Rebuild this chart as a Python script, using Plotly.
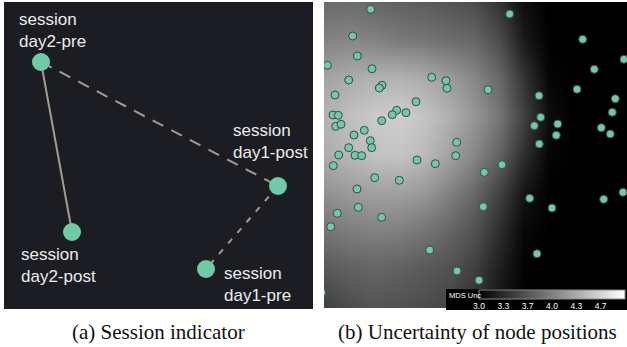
import plotly.graph_objects as go

W, H = 627, 347

# ---------------- Panel (a): session indicator ----------------
session_names = ["session<br>day2-pre", "session<br>day2-post", "session<br>day1-post", "session<br>day1-pre"]
session_x = [41, 72, 278, 206]
session_y = [62, 232, 186, 269]
# links between sessions: (from, to, style)
links = [(0, 1, "solid"), (0, 2, "12px,9px"), (2, 3, "6px,8px")]
# label offsets (left edge, vertical centre) relative to point
label_dx = [-24, -53, -47, 16]
label_dy = [-31, 33, -45, 15]

# ---------------- Panel (b): uncertainty of node positions ----------------
node_x = [370.7, 509.7, 352.7, 582.7, 357.3, 624.0, 327.3, 372.0, 594.3, 348.7,
          431.7, 446.0, 382.0, 379.3, 447.0, 488.0, 577.0, 335.0, 539.0, 615.3,
          416.0, 333.0, 338.3, 396.7, 392.3, 406.0, 612.3, 540.7, 381.7, 335.7,
          341.0, 534.3, 557.7, 601.3, 364.3, 354.0, 556.3, 610.3, 370.3, 456.7,
          539.3, 348.7, 371.7, 338.7, 355.0, 361.7, 455.7, 417.0, 435.3, 502.0,
          333.3, 484.3, 374.7, 399.3, 357.0, 623.0, 529.7, 603.7, 358.3, 483.3,
          552.0, 337.3, 381.7, 330.7, 429.7, 537.0, 457.0, 479.0, 322.0]
node_y = [9.3, 14.0, 36.0, 39.3, 56.0, 59.3, 65.3, 68.7, 69.3, 80.0,
          77.3, 80.7, 85.3, 88.0, 88.3, 89.7, 89.3, 95.0, 95.7, 98.7,
          101.7, 115.0, 115.3, 110.3, 114.7, 112.7, 112.3, 117.3, 120.7, 126.3,
          124.3, 125.7, 124.0, 127.7, 130.3, 135.0, 135.3, 134.0, 140.7, 142.3,
          144.0, 147.7, 147.7, 155.0, 155.3, 155.7, 155.7, 160.0, 163.7, 164.7,
          165.7, 172.3, 177.7, 180.3, 189.0, 192.3, 198.3, 199.3, 207.3, 206.7,
          208.0, 213.3, 217.3, 226.7, 250.0, 253.7, 271.0, 280.3, 292.7]

# MDS uncertainty field sampled on a coarse grid
grid_x = [324, 349, 374, 399, 424, 449, 474, 499, 524, 549, 574, 599, 624]
grid_y = [2, 40, 78, 116, 154, 192, 230, 268, 306]
mds_unc = [
    [3.84, 3.84, 3.80, 3.76, 3.72, 3.66, 3.60, 3.40, 3.10, 3.00, 3.00, 3.00, 3.00],
    [4.02, 4.06, 4.02, 3.96, 3.92, 3.86, 3.80, 3.60, 3.20, 3.00, 3.00, 3.00, 3.00],
    [4.28, 4.34, 4.40, 4.40, 4.34, 4.22, 4.06, 3.82, 3.40, 3.04, 3.00, 3.00, 3.00],
    [4.40, 4.50, 4.58, 4.62, 4.54, 4.38, 4.18, 3.92, 3.50, 3.10, 3.00, 3.00, 3.00],
    [4.36, 4.44, 4.52, 4.54, 4.46, 4.28, 4.06, 3.78, 3.36, 3.04, 3.00, 3.00, 3.00],
    [4.14, 4.22, 4.26, 4.26, 4.20, 4.02, 3.82, 3.52, 3.16, 3.00, 3.00, 3.00, 3.00],
    [3.92, 3.98, 4.02, 4.00, 3.92, 3.80, 3.64, 3.36, 3.06, 3.00, 3.00, 3.00, 3.00],
    [3.70, 3.76, 3.80, 3.76, 3.70, 3.64, 3.50, 3.24, 3.02, 3.00, 3.00, 3.00, 3.00],
    [3.50, 3.60, 3.66, 3.64, 3.60, 3.54, 3.40, 3.16, 3.00, 3.00, 3.00, 3.00, 3.00],
]
cbar_vals = [3.0, 3.333, 3.667, 4.0, 4.333, 4.667, 5.0]
cbar_text = ["3.0", "3.3", "3.7", "4.0", "4.3", "4.7", "5.0"]

MINT = "#6dcba8"
LINK = "#a39b8f"
DARK = "#1c1d22"

fig = go.Figure()

# links
for a, b, dash in links:
    fig.add_trace(go.Scatter(
        x=[session_x[a], session_x[b]], y=[session_y[a], session_y[b]],
        mode="lines", line=dict(color=LINK, width=2, dash=dash),
        xaxis="x", yaxis="y", hoverinfo="skip", showlegend=False))

fig.add_trace(go.Scatter(
    x=session_x, y=session_y, mode="markers",
    marker=dict(color=MINT, size=18, line=dict(width=0)),
    xaxis="x", yaxis="y", showlegend=False))

# heatmap
fig.add_trace(go.Heatmap(
    x=grid_x, y=grid_y, z=mds_unc, zmin=3.0, zmax=5.0, zsmooth="best",
    colorscale=[[0, "#000000"], [1, "#ffffff"]],
    xaxis="x2", yaxis="y2", hoverinfo="skip",
    colorbar=dict(
        orientation="h", xref="container", yref="container",
        x=479 / W, xanchor="left", y=1 - 290 / H, yanchor="top",
        len=146, lenmode="pixels", thickness=9, thicknessmode="pixels",
        xpad=0, ypad=0, outlinewidth=1, outlinecolor="#888888",
        tickvals=cbar_vals, ticktext=cbar_text, ticks="outside", ticklen=0,
        tickwidth=0, tickcolor="black",
        tickfont=dict(size=8.5, color="#ffffff", family="Liberation Sans"),
        bgcolor="rgba(0,0,0,0)")))

fig.add_trace(go.Scatter(
    x=node_x, y=node_y, mode="markers",
    marker=dict(color=MINT, size=8, line=dict(width=1, color="#3d4a44")),
    xaxis="x2", yaxis="y2", showlegend=False))

ax = dict(showgrid=False, zeroline=False, showticklabels=False, ticks="", showline=False)
fig.update_layout(
    width=W, height=H, margin=dict(l=0, r=0, t=0, b=0, autoexpand=False),
    paper_bgcolor="white", plot_bgcolor=DARK, showlegend=False,
    xaxis=dict(domain=[4 / W, 313 / W], range=[4, 313], **ax),
    yaxis=dict(domain=[1 - 309 / H, 1 - 2 / H], range=[309, 2], **ax),
    xaxis2=dict(domain=[324 / W, 1], range=[324, 627], anchor="y2", **ax),
    yaxis2=dict(domain=[1 - 308 / H, 1 - 2 / H], range=[308, 2], anchor="x2", **ax),
)

# colorbar box background
fig.add_shape(type="rect", xref="paper", yref="paper",
              x0=446 / W, x1=1, y0=1 - 310 / H, y1=1 - 289 / H,
              fillcolor="black", line=dict(width=0), layer="above")
fig.add_annotation(text="MDS Unc", xref="paper", yref="paper",
                   x=447 / W, y=1 - 295 / H, xanchor="left", yanchor="middle",
                   showarrow=False, font=dict(size=7.5, color="white", family="Liberation Sans"))

# session labels
for name, px, py, dx, dy in zip(session_names, session_x, session_y, label_dx, label_dy):
    fig.add_annotation(text=name, x=px + dx, y=py + dy, xref="x", yref="y",
                       xanchor="left", yanchor="middle", align="left", showarrow=False,
                       font=dict(size=17, color="#ececec", family="Liberation Sans"))

# captions
fig.add_annotation(text="(a) Session indicator", xref="paper", yref="paper",
                   x=158 / W, y=1 - 332 / H, xanchor="center", yanchor="middle",
                   showarrow=False, font=dict(size=21, color="#111111", family="Liberation Serif"))
fig.add_annotation(text="(b) Uncertainty of node positions", xref="paper", yref="paper",
                   x=477 / W, y=1 - 332 / H, xanchor="center", yanchor="middle",
                   showarrow=False, font=dict(size=21, color="#111111", family="Liberation Serif"))

fig.write_html("out.html", config={"displayModeBar": False},
               post_script="document.body.style.margin='0px';")
